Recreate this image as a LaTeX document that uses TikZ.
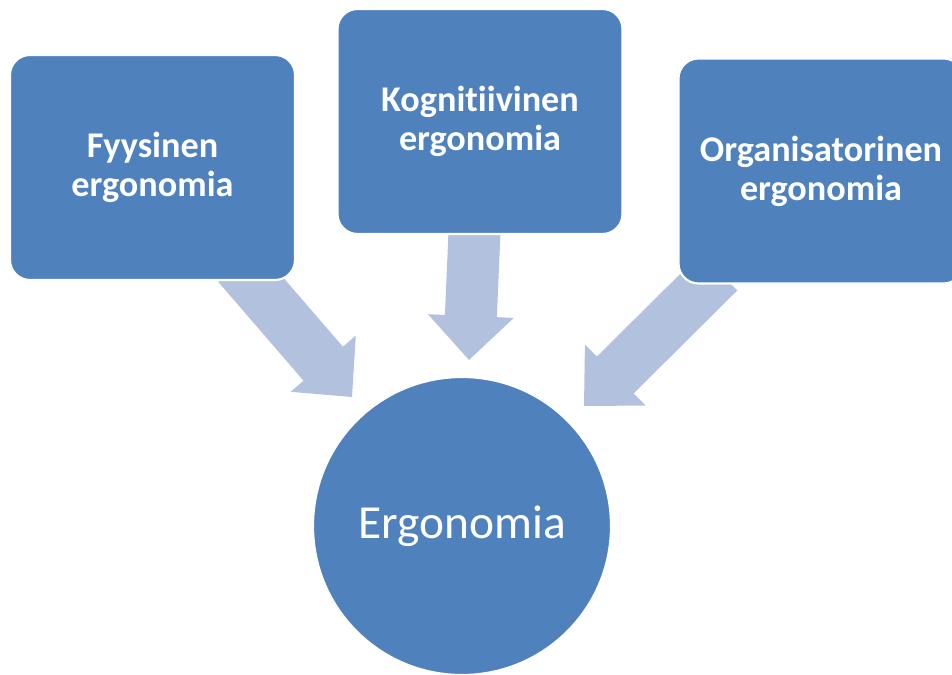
\documentclass[tikz,border=0pt]{standalone}
\usepackage{fontspec}
\setmainfont{Carlito}[Ligatures=NoCommon]
\usepackage{xcolor}
\usepackage{tikz}
\usetikzlibrary{shapes,calc,backgrounds}

\definecolor{boxblue}{RGB}{79,129,189}
\definecolor{arrowblue}{RGB}{178,194,222}

% wide arrow from #1 (under the box) to its tip #2
\newcommand{\blockarrow}[2]{%
	\coordinate (ah) at ($(#2)!0.88cm!(#1)$);
	\fill[arrowblue] ($(#1)!0.52cm!90:(#2)$) -- ($(ah)!0.52cm!90:(#2)$) -- ($(ah)!0.86cm!90:(#2)$) -- (#2)
		-- ($(ah)!0.86cm!-90:(#2)$) -- ($(ah)!0.52cm!-90:(#2)$) -- ($(#1)!0.52cm!-90:(#2)$) -- cycle;
}

\begin{document}
\begin{tikzpicture}[x=0.02cm, y=-0.02cm,
		area/.style={rectangle, rounded corners=0.4cm, draw=white, line width=1.2pt, fill=boxblue, minimum width=5.7cm, minimum height=4.5cm, inner sep=0pt, text=white, align=center, font=\fontsize{20.6}{22.2}\selectfont\bfseries},
		core/.style={circle, draw=white, line width=1.2pt, fill=boxblue, minimum size=5.96cm, inner sep=0pt, text=white, font=\fontsize{27}{32}\selectfont}]
				\useasboundingbox (0,0) rectangle (952,675);
				
				\node[area] (fys) at (152.5,167.5) {Fyysinen\\ergonomia};
				\node[area] (kog) at (480,121.5) {Kognitiivinen\\ergonomia};
				\node[area] (org) at (821,171) {Organisatorinen\\ergonomia};
				\node[core] (ergo) at (462,526) {Ergonomia};
				
				\coordinate (fysOut) at (238,265);
				\coordinate (fysIn) at (352,397);
				\coordinate (kogOut) at (475,220);
				\coordinate (kogIn) at (469,360);
				\coordinate (orgOut) at (719,272);
				\coordinate (orgIn) at (584,406);
				
				\begin{scope}[on background layer]
					\blockarrow{fysOut}{fysIn}
					\blockarrow{kogOut}{kogIn}
					\blockarrow{orgOut}{orgIn}
				\end{scope}
			\end{tikzpicture}
\end{document}
